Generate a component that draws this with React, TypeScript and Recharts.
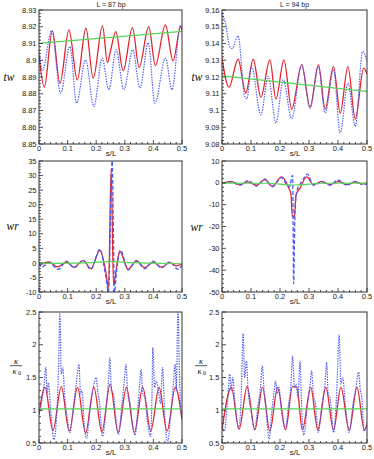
import React from 'react';
import { LineChart, Line, XAxis, YAxis } from 'recharts';

type Pt = [number, number];

const FONT = '"Liberation Sans", Arial, sans-serif';
const SERIF = '"Liberation Serif", "Times New Roman", serif';

const RED = '#e3262c';
const BLUE = '#4d5af5';
const GREEN = '#55d655';

// axis tick labels
const sTicks = [0, 0.1, 0.2, 0.3, 0.4, 0.5];
const tw87Ticks = [8.85, 8.86, 8.87, 8.88, 8.89, 8.9, 8.91, 8.92, 8.93];
const tw94Ticks = [9.08, 9.09, 9.1, 9.11, 9.12, 9.13, 9.14, 9.15, 9.16];
const wr87Ticks = [-10, -5, 0, 5, 10, 15, 20, 25, 30, 35];
const wr94Ticks = [-50, -40, -30, -20, -10, 0, 10];
const kapTicks = [0.5, 1, 1.5, 2, 2.5];

// tw, L = 87 bp  [s/L, value]
const tw87Red: Pt[] = [
  [0, 8.903], [0.0186, 8.8839], [0.0465, 8.9177], [0.0733, 8.8863], [0.1047, 8.9181],
  [0.1337, 8.8883], [0.164, 8.9191], [0.1895, 8.8893], [0.222, 8.9205], [0.2395, 8.8986],
  [0.2488, 8.9046], [0.2686, 8.9171], [0.2942, 8.8937], [0.3267, 8.9195], [0.35, 8.8957],
  [0.3837, 8.9201], [0.407, 8.8968], [0.4419, 8.9211], [0.4686, 8.8996], [0.4953, 8.9201],
  [0.5, 8.918],
];
const tw87Blue: Pt[] = [
  [0, 8.9062], [0.012, 8.894], [0.0442, 8.9177], [0.0756, 8.8804], [0.1081, 8.9082],
  [0.1314, 8.8744], [0.1628, 8.9002], [0.1919, 8.8724], [0.2209, 8.9012], [0.2442, 8.8824],
  [0.2698, 8.9062], [0.2965, 8.8824], [0.3279, 8.9062], [0.353, 8.8834], [0.382, 8.9105],
  [0.405, 8.8744], [0.442, 8.9012], [0.465, 8.8824], [0.495, 8.9211], [0.5, 8.918],
];
const tw87Green: Pt[] = [[0, 8.9101], [0.25, 8.9137], [0.5, 8.9172]];

// tw, L = 94 bp
const tw94Red: Pt[] = [
  [0, 9.1312], [0.0242, 9.1139], [0.0554, 9.1306], [0.082, 9.1104], [0.1074, 9.1306],
  [0.134, 9.108], [0.1651, 9.1302], [0.1859, 9.1068], [0.2136, 9.1302], [0.2402, 9.1008],
  [0.2748, 9.1272], [0.3037, 9.102], [0.3326, 9.1272], [0.3557, 9.1008], [0.3845, 9.1262],
  [0.4076, 9.0985], [0.4342, 9.1262], [0.4596, 9.0949], [0.4885, 9.1253], [0.5, 9.1219],
];
const tw94Blue: Pt[] = [
  [0, 9.158], [0.012, 9.152], [0.0266, 9.1382], [0.036, 9.137], [0.043, 9.14],
  [0.0554, 9.1445], [0.0785, 9.1084], [0.086, 9.107], [0.1016, 9.1263], [0.134, 9.0975],
  [0.1594, 9.1203], [0.1859, 9.0925], [0.2113, 9.1183], [0.2402, 9.0951], [0.2748, 9.1272],
  [0.3037, 9.1014], [0.3326, 9.1263], [0.3557, 9.0985], [0.3845, 9.1243], [0.4076, 9.0866],
  [0.4342, 9.1163], [0.4596, 9.0905], [0.485, 9.1352], [0.5, 9.1292],
];
const tw94Green: Pt[] = [[0, 9.1207], [0.25, 9.116], [0.5, 9.1114]];

// wr, L = 87 bp
const wr87Red: Pt[] = [
  [0, -0.84], [0.036, 0.3], [0.064, -1.4], [0.0965, 0.3], [0.122, -1.5], [0.1547, 0.8],
  [0.1814, -2.0], [0.2128, 4.3], [0.2337, -3.1], [0.243, -8.6], [0.2523, 32.4], [0.2605, -7.7],
  [0.2686, -3.1], [0.2826, 4.0], [0.3116, -2.2], [0.3407, 0.8], [0.37, -1.6], [0.3988, 0.3],
  [0.428, -1.5], [0.457, 0.1], [0.48, -1.0], [0.5, -0.3],
];
const wr87Blue: Pt[] = [
  [0, 0.1], [0.0093, -1.4], [0.036, 0.1], [0.0674, -2.2], [0.0965, 0.6], [0.122, -1.7],
  [0.1547, 0.9], [0.1814, -2.2], [0.2128, 4.7], [0.2337, -4.8], [0.243, -10], [0.2558, 35],
  [0.264, -10], [0.2709, -3.1], [0.2849, 4.3], [0.3116, -2.4], [0.3407, 0.6], [0.37, -2.0],
  [0.3988, 0.6], [0.428, -1.7], [0.457, 0.3], [0.486, -2.2], [0.5, -0.8],
];
const wr87Green: Pt[] = [[0, -0.2], [0.1, -0.1], [0.2, 0.2], [0.25, 0.5], [0.3, 0.2], [0.4, -0.1], [0.5, -0.3]];

// wr, L = 94 bp
const wr94Red: Pt[] = [
  [0, -0.4], [0.0323, 0.7], [0.0612, -0.8], [0.0901, 0.4], [0.1189, -1.1], [0.1478, 1.5],
  [0.1732, -1.5], [0.2055, 2.7], [0.2286, -1.9], [0.2379, -5.4], [0.2425, -15.6], [0.2494, -15.6],
  [0.2552, -5.7], [0.2691, -2.4], [0.2921, 2.7], [0.3152, -0.8], [0.3441, 0.7], [0.373, -0.8],
  [0.4018, 0.7], [0.4307, -0.8], [0.4596, 0.4], [0.4827, -0.5], [0.5, 0],
];
const wr94Blue: Pt[] = [
  [0, -0.1], [0.0323, 0.4], [0.0612, -1.1], [0.0901, 1.0], [0.1189, -1.5], [0.1478, 1.8],
  [0.1732, -1.8], [0.2055, 2.4], [0.2229, -0.8], [0.2333, -1.8], [0.2402, 2.7], [0.2436, 3.4],
  [0.2471, -46.2], [0.2517, -13.4], [0.2587, -3.4], [0.2748, 0.4], [0.2945, 4.0], [0.3152, -1.1],
  [0.3441, 0.4], [0.373, -1.1], [0.3995, 1.3], [0.4307, -1.1], [0.4596, 0.7], [0.485, -0.8],
  [0.5, -0.4],
];
const wr94Green: Pt[] = [[0, -0.1], [0.15, -0.2], [0.25, -1.0], [0.35, -0.2], [0.5, -0.1]];

// kappa / kappa0, L = 87 bp
const k87Red: Pt[] = [
  [0, 0.93], [0.0209, 1.35], [0.0488, 0.69], [0.0779, 1.36], [0.1058, 0.68], [0.1349, 1.35],
  [0.1628, 0.65], [0.1919, 1.35], [0.2198, 0.67], [0.2488, 1.4], [0.2767, 0.66], [0.3058, 1.35],
  [0.3337, 0.66], [0.3628, 1.35], [0.3907, 0.68], [0.4198, 1.35], [0.4477, 0.68], [0.4767, 1.35],
  [0.5, 0.86],
];
const k87Blue: Pt[] = [
  [0, 0.95], [0.008, 1.1], [0.018, 1.4], [0.024, 1.66], [0.028, 1.25], [0.033, 1.42],
  [0.04, 1.05], [0.052, 0.55], [0.062, 0.95], [0.068, 1.6], [0.073, 2.47], [0.078, 1.55],
  [0.083, 1.65], [0.09, 1.2], [0.1, 0.85], [0.108, 0.66], [0.12, 1.05], [0.13, 1.4],
  [0.14, 1.7], [0.145, 1.25], [0.15, 1.3], [0.158, 0.8], [0.166, 0.57], [0.178, 1.0],
  [0.19, 1.35], [0.2, 1.5], [0.205, 1.3], [0.212, 1.1], [0.222, 0.6], [0.235, 1.05],
  [0.243, 1.45], [0.248, 1.8], [0.253, 1.3], [0.26, 1.25], [0.268, 0.9], [0.278, 0.63],
  [0.29, 1.1], [0.298, 1.45], [0.304, 1.7], [0.31, 1.25], [0.318, 1.1], [0.328, 0.75],
  [0.336, 0.62], [0.346, 1.05], [0.352, 1.4], [0.357, 1.62], [0.363, 1.25], [0.37, 1.2],
  [0.38, 0.8], [0.39, 0.6], [0.395, 1.2], [0.398, 1.96], [0.404, 1.35], [0.41, 1.45],
  [0.418, 1.3], [0.425, 1.1], [0.432, 1.65], [0.44, 0.9], [0.45, 0.52], [0.46, 0.9],
  [0.47, 1.4], [0.476, 1.7], [0.48, 1.3], [0.486, 2.52], [0.492, 1.4], [0.5, 0.85],
];
const k87Green: Pt[] = [[0, 1.02], [0.5, 1.02]];

// kappa / kappa0, L = 94 bp
const k94Red: Pt[] = [
  [0, 0.7], [0.0323, 1.35], [0.0589, 0.71], [0.0866, 1.36], [0.1132, 0.7], [0.1397, 1.35],
  [0.1651, 0.68], [0.1917, 1.35], [0.2194, 0.7], [0.243, 1.36], [0.258, 1.35], [0.2771, 0.7],
  [0.306, 1.35], [0.3303, 0.7], [0.358, 1.35], [0.3845, 0.7], [0.41, 1.35], [0.4388, 0.7],
  [0.4654, 1.35], [0.4908, 0.7], [0.5, 0.78],
];
const k94Blue: Pt[] = [
  [0, 0.78], [0.008, 0.68], [0.02, 1.2], [0.027, 1.55], [0.032, 1.3], [0.037, 1.5],
  [0.045, 1.1], [0.058, 0.72], [0.066, 1.2], [0.073, 2.17], [0.078, 1.5], [0.084, 1.75],
  [0.09, 1.3], [0.1, 1.0], [0.112, 0.7], [0.125, 1.1], [0.133, 1.35], [0.139, 1.68],
  [0.145, 1.3], [0.152, 1.0], [0.162, 0.56], [0.172, 1.0], [0.18, 1.3], [0.185, 1.45],
  [0.19, 1.25], [0.196, 1.35], [0.205, 1.0], [0.218, 0.72], [0.23, 1.1], [0.238, 1.4],
  [0.243, 1.83], [0.25, 1.35], [0.256, 1.4], [0.262, 1.2], [0.269, 1.75], [0.275, 1.0],
  [0.282, 0.62], [0.295, 1.1], [0.304, 1.4], [0.309, 1.6], [0.315, 1.25], [0.322, 1.1],
  [0.332, 0.66], [0.345, 1.1], [0.355, 1.4], [0.361, 1.73], [0.366, 1.25], [0.372, 1.2],
  [0.385, 0.66], [0.395, 1.2], [0.404, 2.15], [0.41, 1.4], [0.416, 1.5], [0.425, 1.1],
  [0.438, 0.66], [0.452, 1.1], [0.462, 1.35], [0.471, 1.58], [0.477, 1.3], [0.482, 1.2],
  [0.49, 0.68], [0.5, 0.82],
];
const k94Green: Pt[] = [[0, 1.02], [0.5, 1.02]];

// major ticks + minor subdivisions
const withMinor = (majors: number[], n: number) => {
  const out: number[] = [];
  for (let i = 0; i < majors.length - 1; i++) {
    const step = (majors[i + 1] - majors[i]) / n;
    for (let k = 0; k < n; k++) out.push(majors[i] + k * step);
  }
  out.push(majors[majors.length - 1]);
  return out;
};

const fmt = (v: number) => String(parseFloat(v.toFixed(3)));
const isMajorOf = (v: number, majors: number[]) => majors.some((m) => Math.abs(m - v) < 1e-7);

const xTick = (p: any) => {
  const v = p.payload.value;
  const major = isMajorOf(v, sTicks);
  return (
    <g>
      <line x1={p.x} x2={p.x} y1={p.y} y2={p.y - (major ? 4 : 2)} stroke="#222" strokeWidth={0.8} />
      {major && (
        <text x={p.x} y={p.y + 6.8} textAnchor="middle" fontSize={7.5} fill="#222" fontFamily={FONT}>
          {fmt(v)}
        </text>
      )}
    </g>
  );
};

const makeYTick = (majors: number[]) => (p: any) => {
  const v = p.payload.value;
  const major = isMajorOf(v, majors);
  return (
    <g>
      <line x1={p.x} x2={p.x + (major ? 4 : 2)} y1={p.y} y2={p.y} stroke="#222" strokeWidth={0.8} />
      {major && (
        <text x={p.x - 2.5} y={p.y} dy="0.35em" textAnchor="end" fontSize={7.5} fill="#222" fontFamily={FONT}>
          {fmt(v)}
        </text>
      )}
    </g>
  );
};

interface Series { data: Pt[]; color: string; dash?: string; width: number }
interface PanelProps { x: number; y: number; w: number; h: number; yTicks: number[]; minor: number; series: Series[] }

const Panel = ({ x, y, w, h, yTicks, minor, series }: PanelProps) => {
  const padL = 40, padT = 5, padR = 5, padB = 15;
  return (
    <div style={{ position: 'absolute', left: x - padL, top: y - padT }}>
      <LineChart width={w + padL + padR} height={h + padT + padB} margin={{ top: padT, right: padR, left: 0, bottom: 0 }}>
        <XAxis
          type="number" dataKey="s" domain={[0, 0.5]} ticks={withMinor(sTicks, 5)} interval={0}
          tickSize={0} tickMargin={0} tickLine={false} axisLine={false} height={padB} tick={xTick} allowDataOverflow
        />
        <YAxis
          type="number" domain={[yTicks[0], yTicks[yTicks.length - 1]]} ticks={withMinor(yTicks, minor)} interval={0}
          tickSize={0} tickMargin={0} tickLine={false} axisLine={false} width={padL} tick={makeYTick(yTicks)} allowDataOverflow
        />
        {series.map((se, i) => (
          <Line
            key={i}
            data={se.data.map(([s, v]) => ({ s, v }))}
            dataKey="v"
            type="monotone"
            stroke={se.color}
            strokeWidth={se.width}
            strokeDasharray={se.dash}
            dot={false}
            activeDot={false}
            isAnimationActive={false}
          />
        ))}
      </LineChart>
    </div>
  );
};

const dotted = '1.4 1.2';
const dashed = '4 2';

const panels = [
  { x: 39, y: 10, w: 143, h: 134, yTicks: tw87Ticks, minor: 5, series: [
    { data: tw87Red, color: RED, width: 1.3 }, { data: tw87Blue, color: BLUE, dash: dotted, width: 1.2 }, { data: tw87Green, color: GREEN, width: 1.2 }] },
  { x: 222, y: 10, w: 145, h: 134, yTicks: tw94Ticks, minor: 5, series: [
    { data: tw94Red, color: RED, width: 1.3 }, { data: tw94Blue, color: BLUE, dash: dotted, width: 1.2 }, { data: tw94Green, color: GREEN, width: 1.2 }] },
  { x: 39, y: 161, w: 143, h: 131, yTicks: wr87Ticks, minor: 5, series: [
    { data: wr87Red, color: RED, width: 1.3 }, { data: wr87Blue, color: BLUE, dash: dashed, width: 1.3 }, { data: wr87Green, color: GREEN, width: 1.2 }] },
  { x: 222, y: 161, w: 145, h: 131, yTicks: wr94Ticks, minor: 5, series: [
    { data: wr94Red, color: RED, width: 1.3 }, { data: wr94Blue, color: BLUE, dash: dashed, width: 1.3 }, { data: wr94Green, color: GREEN, width: 1.2 }] },
  { x: 39, y: 312, w: 143, h: 131, yTicks: kapTicks, minor: 5, series: [
    { data: k87Red, color: RED, width: 1.3 }, { data: k87Blue, color: BLUE, dash: dotted, width: 1.2 }, { data: k87Green, color: GREEN, width: 1.2 }] },
  { x: 222, y: 312, w: 145, h: 131, yTicks: kapTicks, minor: 5, series: [
    { data: k94Red, color: RED, width: 1.3 }, { data: k94Blue, color: BLUE, dash: dotted, width: 1.2 }, { data: k94Green, color: GREEN, width: 1.2 }] },
];

const Kappa = ({ cx }: { cx: number }) => (
  <g fontFamily={SERIF} fontStyle="italic" fill="#111">
    <text x={cx} y={363.5} fontSize={8.5} textAnchor="middle">κ</text>
    <line x1={cx - 6} x2={cx + 6} y1={365.7} y2={365.7} stroke="#111" strokeWidth={0.7} />
    <text x={cx - 1.5} y={373.5} fontSize={8.5} textAnchor="middle">κ</text>
    <text x={cx + 3.5} y={374.5} fontSize={6} fontStyle="normal" textAnchor="middle">0</text>
  </g>
);

export default function App() {
  return (
    <div style={{ position: 'absolute', left: 0, top: 0, width: 374, height: 459, background: '#fff', overflow: 'hidden' }}>
      {panels.map((p, i) => <Panel key={i} {...p} />)}
      <svg width={374} height={459} style={{ position: 'absolute', left: 0, top: 0, pointerEvents: 'none' }}>
        {panels.map((p, i) => (
          <rect key={i} x={p.x} y={p.y} width={p.w} height={p.h} fill="none" stroke="#333" strokeWidth={1} />
        ))}
        <g fontFamily={FONT} fontSize={7} fill="#222" textAnchor="middle">
          <text x={111} y={7.3}>L = 87 bp</text>
          <text x={294.5} y={7.3}>L = 94 bp</text>
        </g>
        <g fontFamily={FONT} fontSize={8} fill="#222" textAnchor="middle">
          <text x={111} y={156}>s/L</text>
          <text x={295} y={156}>s/L</text>
          <text x={111} y={304}>s/L</text>
          <text x={295} y={304}>s/L</text>
          <text x={111} y={455}>s/L</text>
          <text x={295} y={455}>s/L</text>
        </g>
        <g fontFamily={SERIF} fontStyle="italic" fontSize={11.5} fill="#111">
          <text x={3.5} y={81}>tw</text>
          <text x={191.5} y={81}>tw</text>
          <text x={6.5} y={230}>wr</text>
          <text x={190.5} y={231}>wr</text>
        </g>
        <Kappa cx={16} />
        <Kappa cx={201} />
      </svg>
    </div>
  );
}
